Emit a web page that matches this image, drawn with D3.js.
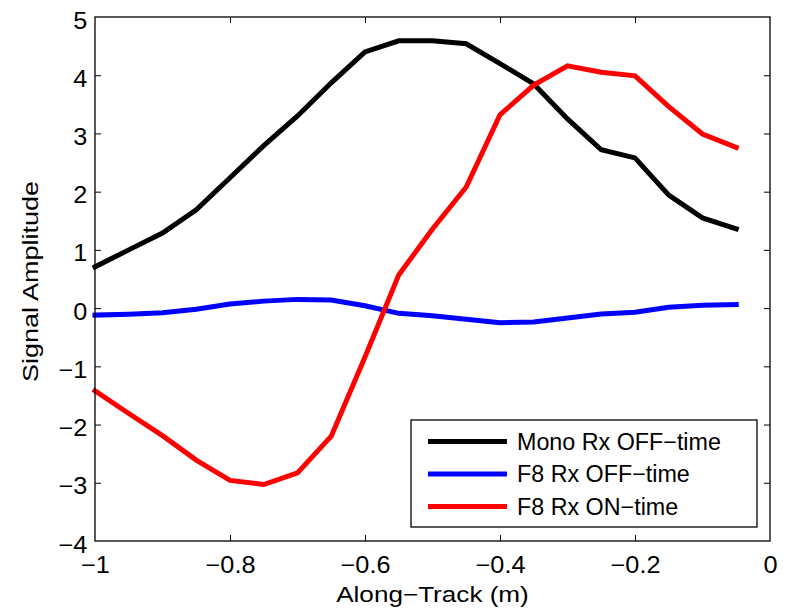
<!DOCTYPE html>
<html>
<head>
<meta charset="utf-8">
<script src="https://cdn.jsdelivr.net/npm/d3@7"></script>
<style>
  html, body { margin: 0; padding: 0; background: #fff; }
  svg { display: block; font-family: "Liberation Sans", Arial, Helvetica, sans-serif; }
</style>
</head>
<body>
<svg id="chart" width="790" height="615"></svg>
<script>
// Along-track positions (m)
const alongTrack = [-1.00, -0.95, -0.90, -0.85, -0.80, -0.75, -0.70, -0.65, -0.60, -0.55,
                    -0.50, -0.45, -0.40, -0.35, -0.30, -0.25, -0.20, -0.15, -0.10, -0.05];

// Signal amplitude per receiver / time window
const monoOff = [0.71, 1.00, 1.29, 1.69, 2.24, 2.79, 3.30, 3.87, 4.40, 4.59,
                 4.59, 4.54, 4.20, 3.85, 3.25, 2.72, 2.58, 1.94, 1.55, 1.36];
const f8Off   = [-0.12, -0.105, -0.08, -0.02, 0.07, 0.12, 0.15, 0.14, 0.04, -0.09,
                 -0.13, -0.19, -0.25, -0.24, -0.17, -0.10, -0.07, 0.015, 0.05, 0.06];
const f8On    = [-1.42, -1.81, -2.19, -2.61, -2.96, -3.03, -2.83, -2.20, -0.84, 0.57,
                 1.36, 2.08, 3.32, 3.83, 4.16, 4.05, 3.99, 3.46, 2.99, 2.76];

const seriesNames  = ["Mono Rx OFF\u2212time", "F8 Rx OFF\u2212time", "F8 Rx ON\u2212time"];
const seriesColors = ["#000000", "#0000ff", "#ff0000"];
const seriesValues = [monoOff, f8Off, f8On];

const xTicks = [-1, -0.8, -0.6, -0.4, -0.2, 0];
const yTicks = [-4, -3, -2, -1, 0, 1, 2, 3, 4, 5];

const xLabel = "Along\u2212Track (m)";
const yLabel = "Signal Amplitude";

const tickFont = 23;
const titleFont = 22.5;
const legendFont = 23.3;
const plot = { left: 95, top: 17, right: 770, bottom: 541 };

const svg = d3.select("#chart");

const x = d3.scaleLinear().domain([-1, 0]).range([plot.left, plot.right]);
const y = d3.scaleLinear().domain([-4, 5]).range([plot.bottom, plot.top]);

const fmt = v => (v < 0 ? "\u2212" : "") + String(Math.abs(v));

// widen glyphs horizontally by a factor (wide Helvetica-style lettering)
function stretch(sel, f) {
  sel.each(function () {
    const w = this.getComputedTextLength();
    d3.select(this).attr("textLength", w * f).attr("lengthAdjust", "spacingAndGlyphs");
  });
}

// plot background
svg.append("rect")
  .attr("x", plot.left).attr("y", plot.top)
  .attr("width", plot.right - plot.left).attr("height", plot.bottom - plot.top)
  .attr("fill", "#fff");

const tickLen = 6;

// bottom axis (labels + inward ticks)
const xAxisB = d3.axisBottom(x).tickValues(xTicks).tickSizeInner(-tickLen).tickSizeOuter(0)
  .tickFormat(fmt);
const gxb = svg.append("g").attr("transform", `translate(0,${plot.bottom})`).call(xAxisB);

// top axis: mirrored ticks only
const xAxisT = d3.axisTop(x).tickValues(xTicks).tickSizeInner(-tickLen).tickSizeOuter(0).tickFormat("");
const gxt = svg.append("g").attr("transform", `translate(0,${plot.top})`).call(xAxisT);

// left axis
const yAxisL = d3.axisLeft(y).tickValues(yTicks).tickSizeInner(-tickLen).tickSizeOuter(0)
  .tickPadding(7.7).tickFormat(fmt);
const gyl = svg.append("g").attr("transform", `translate(${plot.left},0)`).call(yAxisL);

// right axis: mirrored ticks only
const yAxisR = d3.axisRight(y).tickValues(yTicks).tickSizeInner(-tickLen).tickSizeOuter(0).tickFormat("");
const gyr = svg.append("g").attr("transform", `translate(${plot.right},0)`).call(yAxisR);

[gxb, gxt, gyl, gyr].forEach(g => {
  g.select(".domain").remove();
  g.selectAll(".tick line").attr("stroke", "#000").attr("stroke-width", 1);
  g.selectAll(".tick text").attr("fill", "#000").attr("font-size", tickFont)
    .attr("font-family", "Liberation Sans, Arial, sans-serif");
});
gxb.selectAll(".tick text").attr("y", 31.7).attr("dy", null);
gyl.selectAll(".tick text").attr("dy", "0.48em");
stretch(gxb.selectAll(".tick text"), 1.1);
stretch(gyl.selectAll(".tick text"), 1.1);

// ticks at the frame corners are hidden by the frame itself
gyl.selectAll(".tick line").filter(d => d === -4 || d === 5).remove();
gyr.selectAll(".tick line").filter(d => d === -4 || d === 5).remove();
gxb.selectAll(".tick line").filter(d => d === -1 || d === 0).remove();
gxt.selectAll(".tick line").filter(d => d === -1 || d === 0).remove();

// series lines
const line = d3.line()
  .x((d, i) => x(alongTrack[i]))
  .y(d => y(d));

seriesValues.forEach((vals, k) => {
  svg.append("path")
    .datum(vals)
    .attr("d", line)
    .attr("fill", "none")
    .attr("stroke", seriesColors[k])
    .attr("stroke-width", 5)
    .attr("stroke-linejoin", "miter")
    .attr("stroke-linecap", "square");
});

// frame
svg.append("rect")
  .attr("x", plot.left).attr("y", plot.top)
  .attr("width", plot.right - plot.left).attr("height", plot.bottom - plot.top)
  .attr("fill", "none").attr("stroke", "#000").attr("stroke-width", 1.3);

// axis titles
const xt = svg.append("text")
  .attr("x", (plot.left + plot.right) / 2).attr("y", 602)
  .attr("text-anchor", "middle").attr("font-size", titleFont).attr("fill", "#000")
  .text(xLabel);
stretch(xt, 1.16);

const yt = svg.append("text")
  .attr("transform", `translate(38,${(plot.top + plot.bottom) / 2 + 2.5}) rotate(-90)`)
  .attr("text-anchor", "middle").attr("font-size", titleFont).attr("fill", "#000")
  .text(yLabel);
stretch(yt, 1.2);

// legend
const legend = svg.append("g");
legend.append("rect")
  .attr("x", 411).attr("y", 420).attr("width", 346).attr("height", 107)
  .attr("fill", "#fff").attr("stroke", "#000").attr("stroke-width", 1.3);

seriesNames.forEach((name, k) => {
  const cy = 441.5 + k * 32.5;
  legend.append("line")
    .attr("x1", 428).attr("x2", 507).attr("y1", cy).attr("y2", cy)
    .attr("stroke", seriesColors[k]).attr("stroke-width", 5);
  legend.append("text")
    .attr("x", 517).attr("y", cy).attr("dy", "0.36em")
    .attr("font-size", legendFont).attr("fill", "#000")
    .text(name);
});
</script>
</body>
</html>
